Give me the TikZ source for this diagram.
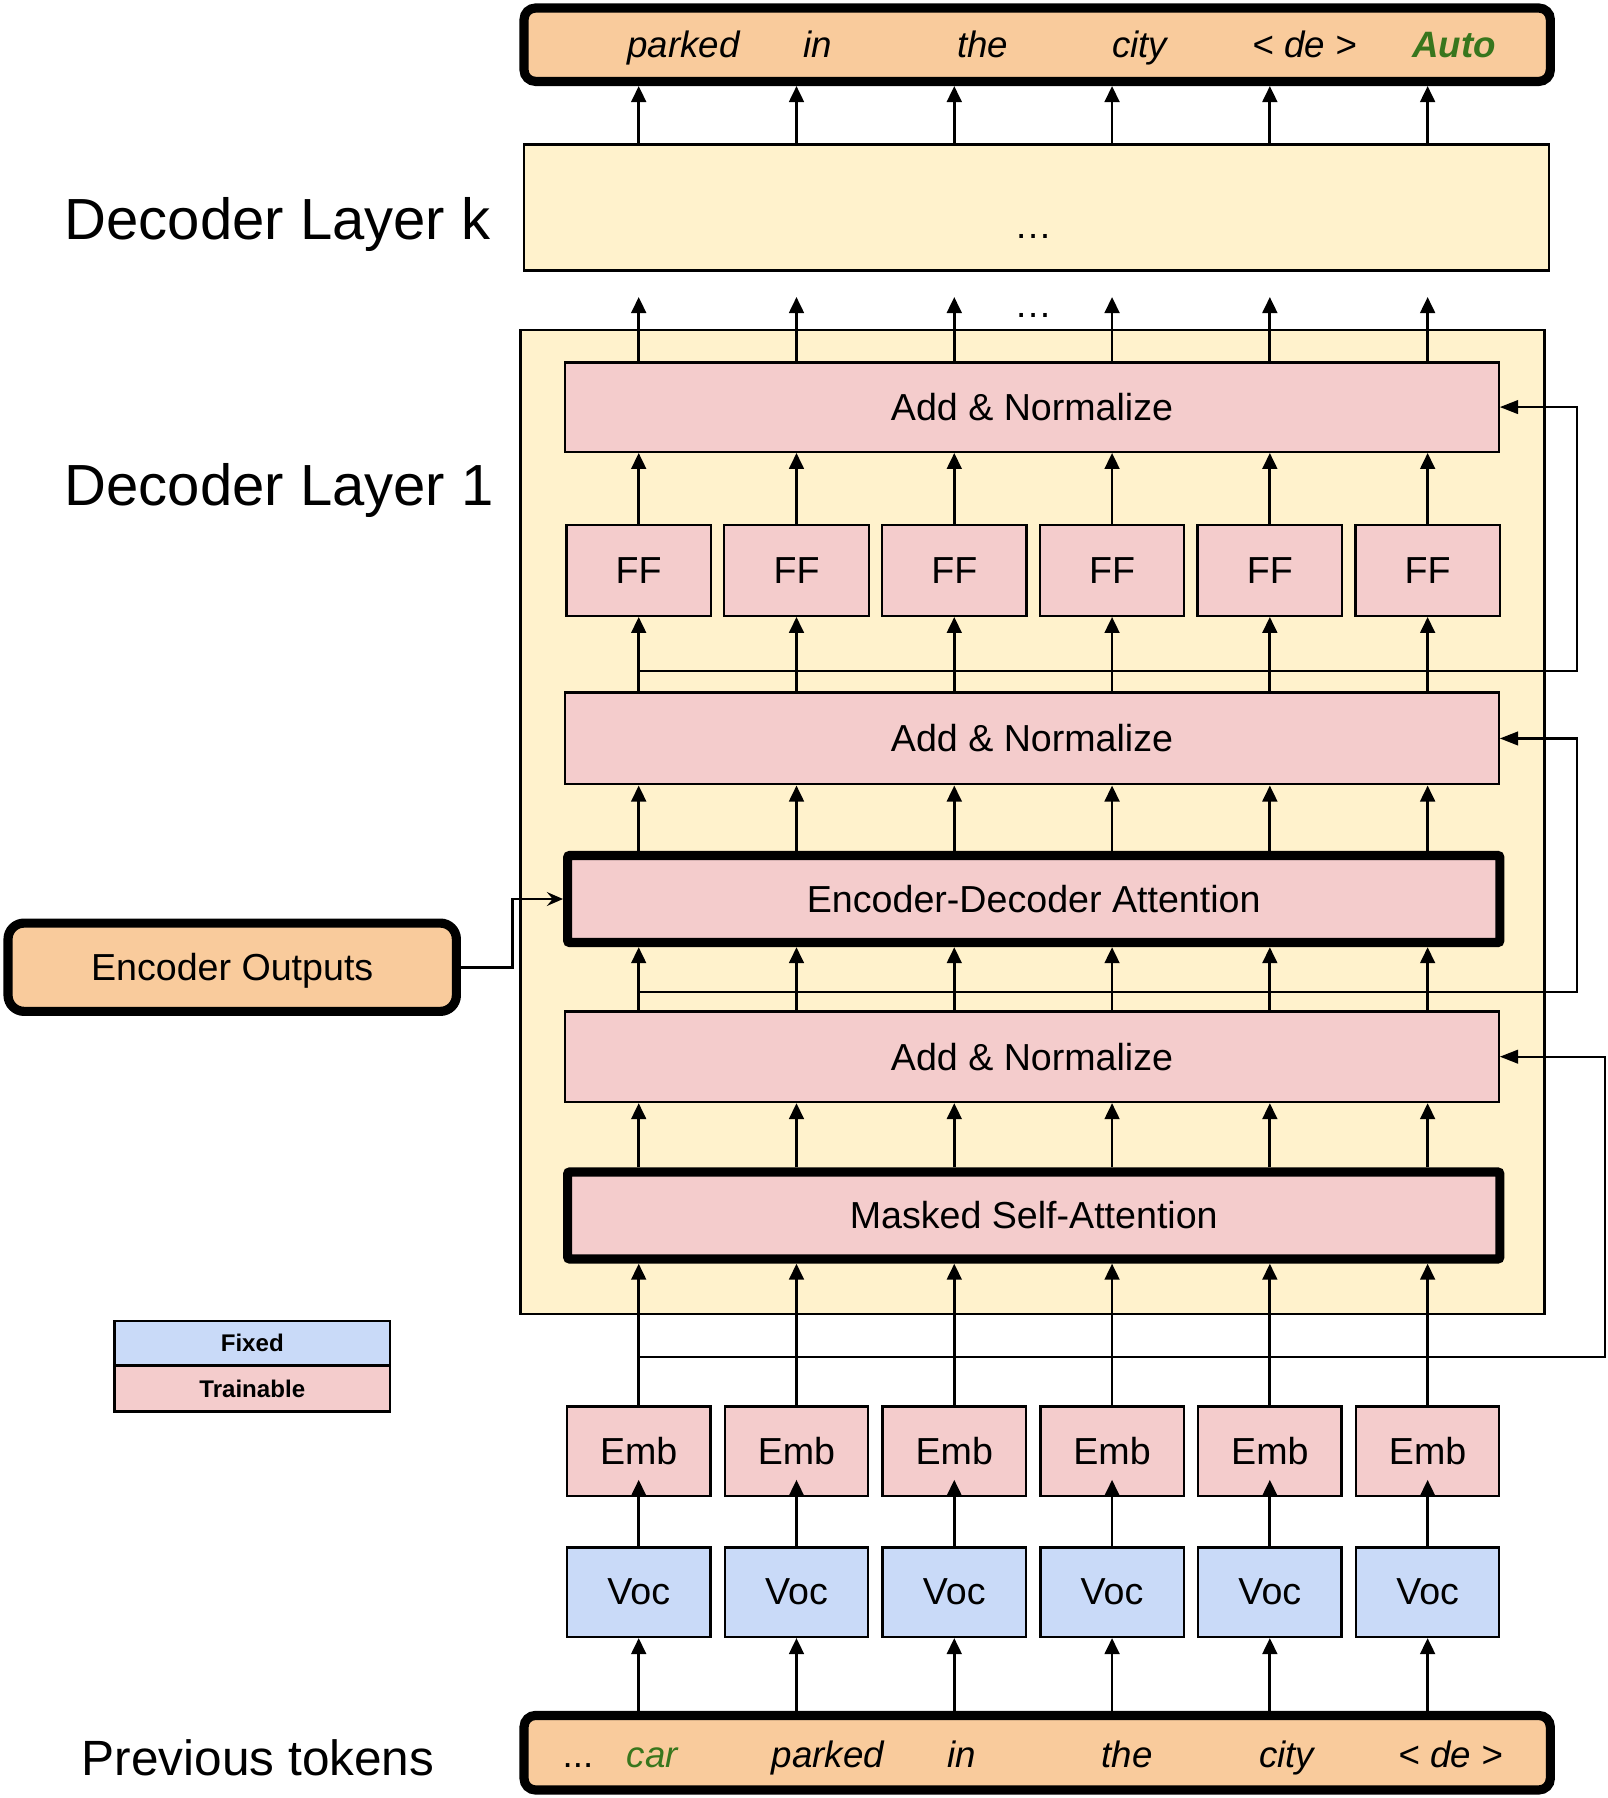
\documentclass[tikz,border=0pt]{standalone}
\usepackage{fontspec}
\setmainfont{Liberation Sans}
\usetikzlibrary{arrows.meta}
\definecolor{pinkc}{HTML}{F4CCCC}
\definecolor{bluec}{HTML}{C9DAF8}
\definecolor{yellowc}{HTML}{FFF2CC}
\definecolor{peachc}{HTML}{F9CB9C}
\definecolor{greenc}{HTML}{38761D}
\begin{document}
\begin{tikzpicture}[x=0.5pt,y=-0.5pt,
  box/.style={draw=black, line width=1pt, inner sep=0pt, font=\fontsize{16.4}{19}\selectfont},
  pinkbox/.style={box, fill=pinkc},
  bluebox/.style={box, fill=bluec},
  thickbox/.style={box, fill=pinkc, line width=4pt, rounded corners=1pt},
  tokbox/.style={draw=black, fill=peachc, line width=4pt, rounded corners=5pt, inner sep=0pt},
  layerbox/.style={draw=black, fill=yellowc, line width=1pt, inner sep=0pt},
  legendbox/.style={draw=black, line width=1.15pt, inner sep=0pt, font=\fontsize{10.5}{12}\selectfont\bfseries},
  flow/.style={line width=1.2pt, -{Triangle[length=7pt,width=6.4pt]}},
  res/.style={line width=0.9pt, -{Triangle[length=8pt,width=6pt]}},
  encarrow/.style={line width=1.2pt, -{Stealth[length=7pt,width=6pt,inset=2.5pt]}},
  biglabel/.style={font=\fontsize{25.3}{30}\selectfont, anchor=base west, inner sep=0pt},
  word/.style={font=\fontsize{16}{19}\selectfont\itshape, anchor=mid, inner sep=0pt},
  dotsstyle/.style={font=\fontsize{16.4}{19}\selectfont, anchor=base, inner sep=0pt},
]
\fill[white] (0,0) rectangle (1402,1568);
\useasboundingbox (0,0) rectangle (1402,1568);

% columns
\foreach \i/\x in {1/557,2/694.6,3/832.2,4/969.8,5/1107.4,6/1245} {
  \coordinate (c\i) at (\x,0);
}
\coordinate (kA) at (1375,0);
\coordinate (kB) at (1400,0);
\coordinate (kE) at (447,0);

% output tokens
\node[tokbox, minimum width=447.5pt, minimum height=32pt] (outbox) at (904.5,39) {};
\node[word] (o1) at (596,45) {parked};
\node[word] (o2) at (713,45) {in};
\node[word] (o3) at (857,45) {the};
\node[word] (o4) at (994,45) {city};
\node[word] (o5) at (1138,45) {< de >};
\node[word, font=\fontsize{16}{19}\selectfont\bfseries\itshape, text=greenc] (o6) at (1268,45) {Auto};

% decoder layer k
\node[layerbox, minimum width=447pt, minimum height=55pt] (dlk) at (904,181) {};
\node[dotsstyle] (dk) at (901,208) {\dots};
\node[dotsstyle] (dm) at (901,277) {\dots};

% decoder layer 1
\node[layerbox, minimum width=446.5pt, minimum height=429pt] (dl1) at (900.5,717) {};
\node[pinkbox, minimum width=407pt, minimum height=39pt] (an1) at (900,355) {Add \& Normalize};
\foreach \i/\x in {1/557,2/694.6,3/832.2,4/969.8,5/1107.4,6/1245} {
  \node[pinkbox, minimum width=63pt, minimum height=39.5pt] (ff\i) at (\x,497.5) {FF};
}
\node[pinkbox, minimum width=407pt, minimum height=40pt] (an2) at (900,644) {Add \& Normalize};
\node[thickbox, minimum width=406.5pt, minimum height=38pt] (eda) at (901.5,784) {Encoder-Decoder Attention};
\node[pinkbox, minimum width=407pt, minimum height=39.5pt] (an3) at (900,921.5) {Add \& Normalize};
\node[thickbox, minimum width=406.5pt, minimum height=38pt] (msa) at (901.5,1060) {Masked Self-Attention};

% embeddings and vocab
\foreach \i/\x in {1/557,2/694.6,3/832.2,4/969.8,5/1107.4,6/1245} {
  \node[pinkbox, minimum width=62.5pt, minimum height=39pt] (emb\i) at (\x,1265.5) {Emb};
  \node[bluebox, minimum width=62.5pt, minimum height=39pt] (voc\i) at (\x,1388.5) {Voc};
}

% input tokens
\node[tokbox, minimum width=447.5pt, minimum height=32.5pt] (inbox) at (904.5,1528.5) {};
\node[word, font=\fontsize{16}{19}\selectfont] (i0) at (504,1536) {...};
\node[word, text=greenc] (i1) at (569,1536) {car};
\node[word] (i2) at (722,1536) {parked};
\node[word] (i3) at (839,1536) {in};
\node[word] (i4) at (983,1536) {the};
\node[word] (i5) at (1122,1536) {city};
\node[word] (i6) at (1265,1536) {< de >};

% encoder outputs
\node[tokbox, rounded corners=7pt, minimum width=195.5pt, minimum height=38.5pt, text depth=0pt, font=\fontsize{16.4}{19}\selectfont] (enc) at (202.5,843.5) {Encoder Outputs};

% legend
\node[legendbox, fill=bluec, minimum width=120pt, minimum height=19.5pt] (fixed) at (220,1171.5) {Fixed};
\node[legendbox, fill=pinkc, minimum width=120pt, minimum height=20pt] (train) at (220,1211) {Trainable};

% left labels
\node[biglabel] (lk) at (56,209) {Decoder Layer k};
\node[biglabel] (l1) at (56,441) {Decoder Layer 1};
\node[font=\fontsize{21.6}{25}\selectfont, anchor=base west, inner sep=0pt] (lp) at (71,1548) {Previous tokens};

% vertical flow arrows
\foreach \i in {1,...,6} {
  \draw[flow] (c\i |- dlk.north) -- (c\i |- outbox.south);
  \draw[flow, shorten >=11pt] (c\i |- an1.north) -- (c\i |- dlk.south);
  \draw[flow] (ff\i.north) -- (c\i |- an1.south);
  \draw[flow] (c\i |- an2.north) -- (ff\i.south);
  \draw[flow] (c\i |- eda.north) -- (c\i |- an2.south);
  \draw[flow] (c\i |- an3.north) -- (c\i |- eda.south);
  \draw[flow] (c\i |- msa.north) -- (c\i |- an3.south);
  \draw[flow] (emb\i.north) -- (c\i |- msa.south);
  \draw[flow, shorten >=-7.5pt] (voc\i.north) -- (emb\i.south);
  \draw[flow] (c\i |- inbox.north) -- (voc\i.south);
}

% residual connections
\coordinate (r1) at (557,1183);
\coordinate (r2) at (557,865);
\coordinate (r3) at (557,585);
\draw[res] (r1) -| (kB |- an3.east) -- (an3.east);
\draw[res] (r2) -| (kA |- an2.east) -- (an2.east);
\draw[res] (r3) -| (kA |- an1.east) -- (an1.east);

% encoder outputs to encoder-decoder attention
\draw[encarrow] (enc.east) -| (kE |- eda.west) -- (eda.west);
\end{tikzpicture}
\end{document}
